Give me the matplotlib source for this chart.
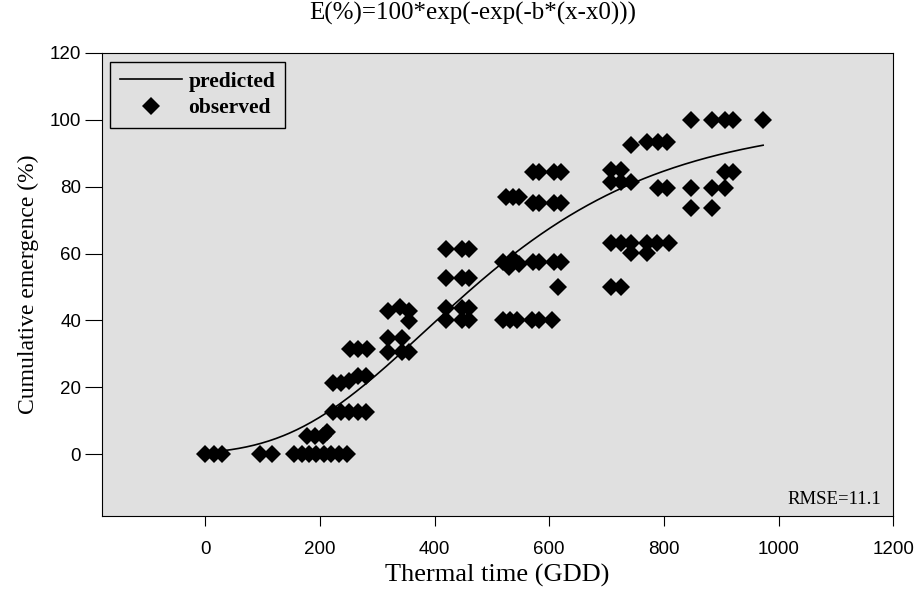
import numpy as np
import matplotlib
matplotlib.use('Agg')
import matplotlib.pyplot as plt
from matplotlib.legend_handler import HandlerLine2D

# Datos observados (tiempo térmico GDD, emergencia acumulada %)
x_obs = [0, 15, 30, 95, 117, 155, 168, 181, 194, 207, 220, 233, 248,
         178, 192, 205, 213,
         222, 237, 251, 266, 280,
         222, 237, 251, 266, 280,
         253, 267, 282,
         318, 340, 355, 355, 318, 344, 318, 344, 355,
         420, 447, 460, 420, 447, 460, 420, 447, 460, 420, 447, 460,
         520, 530, 537, 547, 572, 582, 608, 620,
         520, 532, 544, 570, 582, 605, 616,
         524, 537, 547,
         572, 582, 608, 620, 572, 582, 608, 620,
         708, 725, 708, 725, 743,
         708, 725, 743, 770, 788, 808, 743, 770,
         708, 725,
         743, 770, 790, 806, 790, 806,
         848, 883, 906, 921, 973,
         906, 921, 848, 883, 906, 848, 883]
y_obs = [0, 0, 0, 0, 0, 0, 0, 0, 0, 0, 0, 0, 0,
         5.4, 5.4, 5.4, 6.6,
         12.5, 12.5, 12.5, 12.5, 12.5,
         21.2, 21.2, 22.0, 23.5, 23.5,
         31.6, 31.6, 31.6,
         42.7, 43.9, 42.7, 39.7, 34.9, 34.9, 30.7, 30.7, 30.7,
         61.5, 61.5, 61.5, 52.7, 52.7, 52.7, 43.8, 43.8, 43.8, 40.2, 40.2, 40.2,
         57.5, 56.0, 58.5, 57.0, 57.5, 57.5, 57.5, 57.5,
         40, 40, 40, 40, 40, 40, 50,
         77, 77, 77,
         84.5, 84.5, 84.5, 84.5, 75.2, 75.2, 75.2, 75.2,
         85, 85, 81.5, 81.5, 81.5,
         63.3, 63.3, 63.3, 63.3, 63.3, 63.3, 60.2, 60.2,
         50, 50,
         92.5, 93.4, 93.4, 93.4, 79.7, 79.7,
         100, 100, 100, 100, 100,
         84.5, 84.5, 79.7, 79.7, 79.7, 73.7, 73.7]

# Parámetros del modelo de Gompertz
b = 0.0043
x0 = 383

def gompertz(x):
    return 100 * np.exp(-np.exp(-b * (x - x0)))

x_fit = np.linspace(0, 973, 300)

serif = ['Liberation Serif', 'DejaVu Serif']
sans = ['Liberation Sans', 'DejaVu Sans']


# marcador de la leyenda a la izquierda del hueco
class LeftMarker(HandlerLine2D):
    def get_xdata(self, legend, xdescent, ydescent, width, height, fontsize):
        xd, xm = super().get_xdata(legend, xdescent, ydescent, width, height, fontsize)
        return xd, [-xdescent + 0.14 * width]


fig = plt.figure(figsize=(9.19, 5.94), dpi=100)
ax = fig.add_axes([0.111, 0.131, 0.861, 0.780])
ax.set_facecolor('#e0e0e0')

ax.plot(x_fit, gompertz(x_fit), color='black', lw=1.2, label='predicted', zorder=2)
obs, = ax.plot(x_obs, y_obs, 'D', color='black', ms=8.8, mew=0, label='observed', zorder=3)

ax.set_xlim(-180, 1200)
ax.set_ylim(-18.5, 120)
ax.set_xticks(np.arange(0, 1201, 200))
ax.set_yticks(np.arange(0, 121, 20))
ax.tick_params(axis='x', direction='out', length=7, pad=11, labelsize=13.5)
ax.tick_params(axis='y', direction='out', length=12, pad=3, labelsize=13.5)
for lab in ax.get_xticklabels() + ax.get_yticklabels():
    lab.set_family(sans)

ax.set_xlabel('Thermal time (GDD)', family=serif, fontsize=19, labelpad=4)
ax.set_ylabel('Cumulative emergence (%)', family=serif, fontsize=17, labelpad=8)
fig.text(0.514, 0.978, 'E(%)=100*exp(-exp(-b*(x-x0)))', family=serif,
         fontsize=18, ha='center', va='center')
ax.text(0.985, 0.035, 'RMSE=11.1', transform=ax.transAxes, family=serif,
        fontsize=13.5, ha='right', va='center')

leg = ax.legend(loc='upper left', frameon=True, fancybox=False, edgecolor='black',
                facecolor='#e0e0e0', framealpha=1, borderpad=0.45, handlelength=2.9,
                handletextpad=0.3, labelspacing=0.3,
                prop={'family': serif, 'weight': 'bold', 'size': 15.5},
                handler_map={obs: LeftMarker()},
                bbox_to_anchor=(0.01, 0.98), borderaxespad=0)
leg.get_frame().set_linewidth(1.0)

plt.savefig('out.png', dpi=100)
